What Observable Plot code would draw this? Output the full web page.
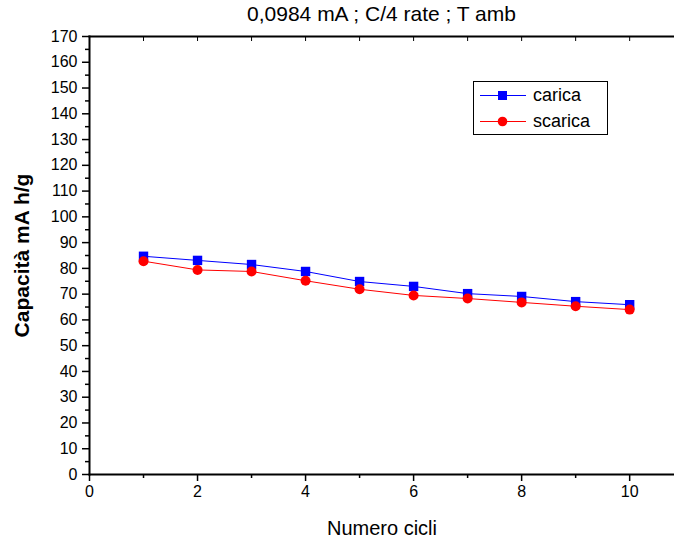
<!DOCTYPE html>
<html>
<head>
<meta charset="utf-8">
<script src="https://cdn.jsdelivr.net/npm/d3@7"></script>
<script src="https://cdn.jsdelivr.net/npm/@observablehq/plot@0.6"></script>
<style>
  html, body { margin: 0; padding: 0; background: #fff; }
  #wrap { position: relative; width: 674px; height: 541px; font-family: "Liberation Sans", Arial, sans-serif; color: #000; }
  #title { position: absolute; left: 89px; right: 0; top: 2px; text-align: center; font-size: 21px; line-height: 24px; }
  #legend { position: absolute; left: 473px; top: 81px; width: 135px; height: 54px; border: 1px solid #000; box-sizing: border-box; background: #fff; }
  #legend .row { position: absolute; left: 0; height: 24px; display: flex; align-items: center; font-size: 18px; }
  #legend svg { margin-left: 6px; margin-right: 7px; }
  g[aria-label="y-axis label"] text { font-weight: bold; font-size: 21px; }
  g[aria-label="x-axis label"] text { font-size: 20px; }
</style>
</head>
<body>
<div id="wrap">
  <div id="chart"></div>
  <div id="title"></div>
  <div id="legend"></div>
</div>
<script>
const titleText = "0,0984 mA ; C/4 rate ; T amb";
const xLabel = "Numero cicli";
const yLabel = "Capacità mA h/g";
const cycles = [1, 2, 3, 4, 5, 6, 7, 8, 9, 10];
const carica = [84.7, 83.1, 81.5, 78.8, 74.9, 73.0, 70.2, 69.1, 67.1, 65.9];
const scarica = [82.8, 79.4, 78.8, 75.2, 71.9, 69.5, 68.3, 66.8, 65.3, 64.0];
const seriesNames = ["carica", "scarica"];
const seriesColors = ["#0000ff", "#ff0000"];
const xTicks = [0, 2, 4, 6, 8, 10];
const xMinor = [1, 3, 5, 7, 9];
const xTop = [1, 2, 3, 4, 5, 6, 7, 8, 9, 10];
const yTicks = [0, 10, 20, 30, 40, 50, 60, 70, 80, 90, 100, 110, 120, 130, 140, 150, 160, 170];
const yMinor = [5, 15, 25, 35, 45, 55, 65, 75, 85, 95, 105, 115, 125, 135, 145, 155, 165];

const dataC = cycles.map((c, i) => ({x: c, y: carica[i]}));
const dataS = cycles.map((c, i) => ({x: c, y: scarica[i]}));
const blank = () => "";

const chart = Plot.plot({
  width: 674,
  height: 541,
  marginLeft: 89,
  marginRight: 0,
  marginTop: 36,
  marginBottom: 67,
  style: {fontFamily: '"Liberation Sans", Arial, sans-serif', fontSize: "16px", color: "#000", background: "#fff", overflow: "visible"},
  x: {domain: [0, 10.83]},
  y: {domain: [0, 170]},
  marks: [
    Plot.axisX({anchor: "bottom", ticks: xTicks, tickSize: 7, tickPadding: 4, strokeWidth: 1.5, label: xLabel, labelAnchor: "center", labelOffset: 60, labelArrow: "none"}),
    Plot.axisX({anchor: "bottom", ticks: xMinor, tickSize: 4, strokeWidth: 1.5, tickFormat: blank, label: null}),
    Plot.axisX({anchor: "top", ticks: xTop, tickSize: -4, strokeWidth: 1, tickFormat: blank, label: null}),
    Plot.axisY({anchor: "left", ticks: yTicks, tickSize: 7, tickPadding: 5, strokeWidth: 1.5, label: yLabel, labelAnchor: "center", labelOffset: 75, labelArrow: "none"}),
    Plot.axisY({anchor: "left", ticks: yMinor, tickSize: 4, strokeWidth: 1.5, tickFormat: blank, label: null}),
    Plot.frame({anchor: "left", strokeWidth: 2}),
    Plot.frame({anchor: "bottom", strokeWidth: 2}),
    Plot.frame({anchor: "top", strokeWidth: 2}),
    Plot.line(dataC, {x: "x", y: "y", stroke: seriesColors[0], strokeWidth: 1}),
    Plot.line(dataS, {x: "x", y: "y", stroke: seriesColors[1], strokeWidth: 1}),
    Plot.dot(dataC, {x: "x", y: "y", symbol: "square", r: 5.3, fill: seriesColors[0], stroke: "none"}),
    Plot.dot(dataS, {x: "x", y: "y", symbol: "circle", r: 5, fill: seriesColors[1], stroke: "none"})
  ]
});
document.getElementById("chart").appendChild(chart);
document.getElementById("title").textContent = titleText;

const legend = document.getElementById("legend");
seriesNames.forEach((name, i) => {
  const row = document.createElement("div");
  row.className = "row";
  row.style.top = (i === 0 ? 1 : 27) + "px";
  const sym = i === 0
    ? `<rect x="18" y="7" width="9" height="9" fill="${seriesColors[i]}"/>`
    : `<circle cx="22.5" cy="11.5" r="4.8" fill="${seriesColors[i]}"/>`;
  row.innerHTML = `<svg width="46" height="23"><line x1="0" x2="46" y1="11.5" y2="11.5" stroke="${seriesColors[i]}" stroke-width="1"/>${sym}</svg><span>${name}</span>`;
  legend.appendChild(row);
});
</script>
</body>
</html>
